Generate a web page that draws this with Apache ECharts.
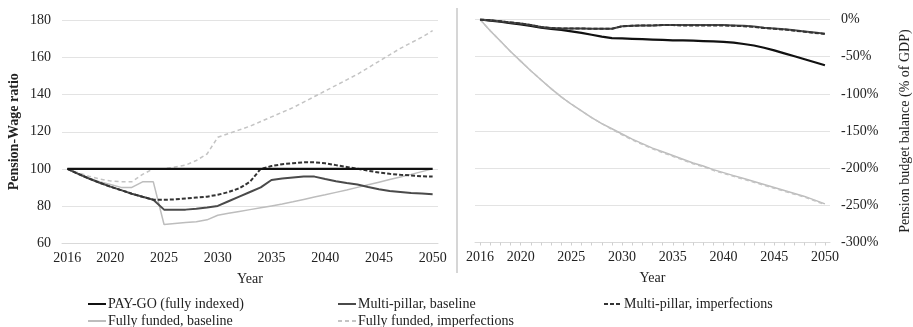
<!DOCTYPE html>
<html>
<head>
<meta charset="utf-8">
<script src="https://cdn.jsdelivr.net/npm/echarts@6/dist/echarts.min.js"></script>
<style>html,body{margin:0;padding:0;background:#fff}#c{width:913px;height:327px}</style>
</head>
<body>
<div id="c"></div>
<script>
const years = [2016,2017,2018,2019,2020,2021,2022,2023,2024,2025,2026,2027,2028,2029,2030,2031,2032,2033,2034,2035,2036,2037,2038,2039,2040,2041,2042,2043,2044,2045,2046,2047,2048,2049,2050];
const shownYears = [2016,2020,2025,2030,2035,2040,2045,2050];

// Left panel: Pension-Wage ratio
const ratioPayGo = [100,100,100,100,100,100,100,100,100,100,100,100,100,100,100,100,100,100,100,100,100,100,100,100,100,100,100,100,100,100,100,100,100,100,100];
const ratioMPBase = [100,97.3,94.8,92.5,90.4,88.5,86.6,84.9,83.3,78,78,78,78.5,79.2,80,82.5,85,87.5,90,94,94.8,95.3,95.8,95.8,94.5,93.3,92.3,91.5,90.2,89,88,87.5,87,86.7,86.3];
const ratioMPImp = [100,97.3,94.8,92.5,90.4,88.5,86.6,84.9,83.3,83.3,83.5,84,84.5,85,86,87.5,89.5,93,100,101.5,102.5,103,103.5,103.5,103,102,101,100,99,98,97.3,96.8,96.4,96,95.8];
const ratioFFBase = [100,97.5,95,93,91.5,90,90,93,93,70,70.5,71,71.5,72.5,75,76,77,78,79,80,81,82.2,83.5,84.8,86,87.3,88.6,90,91.4,92.8,94.2,95.6,97,98.5,100];
const ratioFFImp = [100,98,96,94.5,93.5,93,93,97,100,100,101,102,104.5,108,117,119,121,123,125.5,128,130.5,133,136,139,142,145,148,151,154.5,158,161.5,165,168,171,174.5];

// Right panel: Pension budget balance (% of GDP)
const balPayGo = [0,-1.5,-3,-5,-6.5,-8.5,-11,-12.5,-14,-16,-18,-20.5,-23,-25,-25.5,-26,-26.5,-27,-27.5,-28,-28,-28.5,-29,-29.5,-30,-31,-33,-35,-38,-41.5,-45.5,-49.5,-53.5,-57.5,-61.5];
const balMPBase = [0,-1,-2.5,-4,-5.5,-7.5,-10,-11.5,-12,-12,-12,-12.5,-12.5,-12.5,-9,-8.5,-8,-8,-7.5,-7.5,-7.5,-7.5,-7.5,-7.5,-7.5,-8,-8.5,-9.5,-11,-12,-13,-14.5,-16,-17.5,-19];
const balMPImp = [0,-1,-2.5,-4,-5.5,-7.5,-10,-11.5,-12,-12,-12,-12.5,-12.5,-12.5,-9,-8.5,-8,-8,-7.5,-7.5,-8,-8,-8,-8,-8,-8.5,-9,-10,-11.5,-12.5,-13.5,-15,-16.5,-18,-19.5];
const balFFBase = [0,-15,-29,-43,-56,-69,-81,-93,-104,-114,-123,-132,-140,-147,-154,-161,-167,-173,-178,-183,-188,-193,-197,-202,-206,-210,-214,-218,-222,-226,-230,-234,-238,-243,-248];
const balFFImp = [0,-15,-29,-43,-56,-69,-81,-93,-104,-114,-123,-132,-140,-148,-155,-162,-168,-174,-179,-184,-189,-194,-198,-203,-207,-211,-215,-219,-223,-227,-231,-235,-239,-244,-249];

const leftTicks = [60,80,100,120,140,160,180];
const rightTicks = [-300,-250,-200,-150,-100,-50,0];

const N_PAYGO = 'PAY-GO (fully indexed)';
const N_MPB = 'Multi-pillar, baseline';
const N_MPI = 'Multi-pillar, imperfections';
const N_FFB = 'Fully funded, baseline';
const N_FFI = 'Fully funded, imperfections';

const FONT = 'Liberation Serif';
const TXT = '#222';

const styles = {};
styles[N_PAYGO] = {color:'#111', width:2.2, type:'solid'};
styles[N_MPB] = {color:'#4a4a4a', width:2, type:'solid'};
styles[N_MPI] = {color:'#333', width:2, type:[4,2]};
styles[N_FFB] = {color:'#bdbdbd', width:1.5, type:'solid'};
styles[N_FFI] = {color:'#c4c4c4', width:1.5, type:[4,3]};

function mk(name, data, idx) {
  const s = styles[name];
  return {
    name: name, type: 'line', data: data, xAxisIndex: idx, yAxisIndex: idx,
    symbol: 'none', showSymbol: false, silent: true, animation: false,
    lineStyle: {color: s.color, width: s.width, type: s.type},
    itemStyle: {color: s.color}
  };
}

function leg(name, left, top) {
  return {left: left, top: top, orient:'horizontal', itemWidth: 18, itemHeight: 8, data:[name],
    itemStyle: {opacity: 0},
    textStyle:{fontFamily:FONT, fontSize:14, color:TXT, padding:[0,0,0,-3]}, selectedMode:false};
}

const xLabel = {
  fontFamily: FONT, fontSize: 14, color: TXT, margin: 8,
  interval: function(i, v){ return shownYears.indexOf(Number(v)) >= 0; }
};

const chart = echarts.init(document.getElementById('c'), null, {renderer:'canvas'});
chart.setOption({
  animation: false,
  backgroundColor: '#fff',
  textStyle: {fontFamily: FONT},
  grid: [
    {left: 62, top: 20.5, width: 376, height: 222.5, containLabel: false},
    {left: 475, top: 19.5, width: 357, height: 223, containLabel: false}
  ],
  xAxis: [
    {type:'category', gridIndex:0, data: years, boundaryGap: true,
     axisLine:{show:true, onZero:false, lineStyle:{color:'#d9d9d9'}}, axisTick:{show:false},
     axisLabel: xLabel,
     name:'Year', nameLocation:'middle', nameGap:29,
     nameTextStyle:{fontFamily:FONT, fontSize:14, color:TXT}},
    {type:'category', gridIndex:1, data: years, boundaryGap: true,
     axisLine:{show:true, onZero:false, lineStyle:{color:'#d9d9d9'}},
     axisTick:{show:true, interval:0, alignWithLabel:true, length:3, lineStyle:{color:'#cfcfcf'}},
     axisLabel: xLabel,
     name:'Year', nameLocation:'middle', nameGap:29,
     nameTextStyle:{fontFamily:FONT, fontSize:14, color:TXT}}
  ],
  yAxis: [
    {type:'value', gridIndex:0, min: leftTicks[0], max: leftTicks[leftTicks.length-1], interval: 20,
     axisLine:{show:false}, axisTick:{show:false},
     splitLine:{show:true, lineStyle:{color:'#e3e3e3', width:1}},
     axisLabel:{fontFamily:FONT, fontSize:14, color:TXT, margin:11},
     name:'Pension-Wage ratio', nameLocation:'middle', nameGap:41, nameRotate:90,
     nameTextStyle:{fontFamily:FONT, fontSize:14, fontWeight:'bold', color:TXT}},
    {type:'value', gridIndex:1, position:'right', min: rightTicks[0], max: rightTicks[rightTicks.length-1], interval: 50,
     axisLine:{show:false}, axisTick:{show:false},
     splitLine:{show:true, lineStyle:{color:'#e3e3e3', width:1}},
     axisLabel:{fontFamily:FONT, fontSize:14, color:TXT, margin:11, formatter:'{value}%'},
     name:'Pension budget balance (% of GDP)', nameLocation:'middle', nameGap:68, nameRotate:90,
     nameTextStyle:{fontFamily:FONT, fontSize:14, color:TXT}}
  ],
  legend: [
    leg(N_PAYGO, 82, 292),
    leg(N_FFB, 82, 309),
    leg(N_MPB, 332, 292),
    leg(N_FFI, 332, 309),
    leg(N_MPI, 598, 292)
  ],
  graphic: [
    {type:'line', shape:{x1:457, y1:8, x2:457, y2:273}, style:{stroke:'#c8c8c8', lineWidth:1.5}, silent:true}
  ],
  series: [
    mk(N_FFI, ratioFFImp, 0),
    mk(N_FFB, ratioFFBase, 0),
    mk(N_MPB, ratioMPBase, 0),
    mk(N_MPI, ratioMPImp, 0),
    mk(N_PAYGO, ratioPayGo, 0),
    mk(N_FFB, balFFBase, 1),
    mk(N_FFI, balFFImp, 1),
    mk(N_PAYGO, balPayGo, 1),
    mk(N_MPB, balMPBase, 1),
    mk(N_MPI, balMPImp, 1)
  ]
});
</script>
</body>
</html>
